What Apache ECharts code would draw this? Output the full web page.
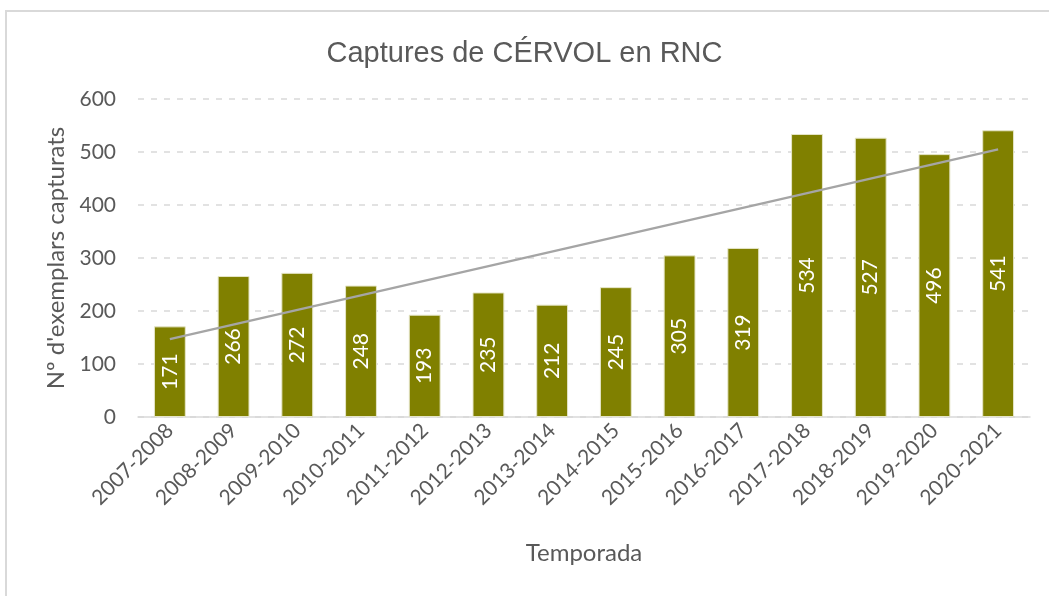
<!DOCTYPE html>
<html>
<head>
<meta charset="utf-8">
<script src="https://cdn.jsdelivr.net/npm/echarts@6/dist/echarts.min.js"></script>
<style>
html,body{margin:0;padding:0;background:#fff;overflow:hidden;}
#frame{position:absolute;left:5px;top:10px;width:1100px;height:700px;border:2px solid #d9d9d9;box-sizing:border-box;}
#chart{position:absolute;left:0;top:0;width:1049px;height:596px;}
</style>
</head>
<body>
<div id="frame"></div>
<div id="chart"></div>
<script>
const categories = ['2007-2008','2008-2009','2009-2010','2010-2011','2011-2012','2012-2013','2013-2014','2014-2015','2015-2016','2016-2017','2017-2018','2018-2019','2019-2020','2020-2021'];
const captures = [171,266,272,248,193,235,212,245,305,319,534,527,496,541];
const trendEnds = [147, 505];
const yTicks = [0,100,200,300,400,500,600];

const trendData = categories.map((c,i)=> i===0 ? trendEnds[0] : (i===categories.length-1 ? trendEnds[1] : null));

const chart = echarts.init(document.getElementById('chart'), null, {renderer:'canvas'});
const labelFont = 'Lato, "Open Sans", sans-serif';
chart.setOption({
  animation:false,
  title:{
    text:'Captures de CÉRVOL en RNC',
    left:'center', top:34,
    textStyle:{fontFamily:'"Liberation Sans", Arial, sans-serif', fontSize:29, fontWeight:'normal', color:'#595959'}
  },
  grid:{left:138, right:19, top:99, bottom:179},
  xAxis:{
    type:'category', data:categories,
    name:'Temporada', nameLocation:'middle', nameGap:124,
    nameTextStyle:{fontFamily:labelFont, fontSize:24, color:'#595959'},
    axisLine:{lineStyle:{color:'#d9d9d9', width:1.5}},
    axisTick:{show:false},
    axisLabel:{rotate:45, fontFamily:labelFont, fontSize:21, color:'#595959', margin:10, interval:0}
  },
  yAxis:{
    type:'value', min:yTicks[0], max:yTicks[yTicks.length-1], interval:100,
    name:"Nº d'exemplars capturats", nameLocation:'middle', nameGap:70,
    nameTextStyle:{fontFamily:labelFont, fontSize:24, color:'#595959'},
    axisLine:{show:false}, axisTick:{show:false},
    axisLabel:{fontFamily:labelFont, fontSize:21, color:'#595959', margin:22},
    splitLine:{lineStyle:{color:'#d9d9d9', type:[6,7], width:1.5}}
  },
  series:[
    {
      type:'bar', data:captures, barWidth:'50%',
      itemStyle:{color:'#808000', borderColor:'#e6e6c8', borderWidth:1},
      label:{show:true, position:'inside', rotate:90, color:'#ffffff', fontFamily:labelFont, fontSize:21}
    },
    {
      type:'line', data:trendData, connectNulls:true, symbol:'none',
      lineStyle:{color:'#a5a5a5', width:2.2}
    }
  ]
});
</script>
</body>
</html>
